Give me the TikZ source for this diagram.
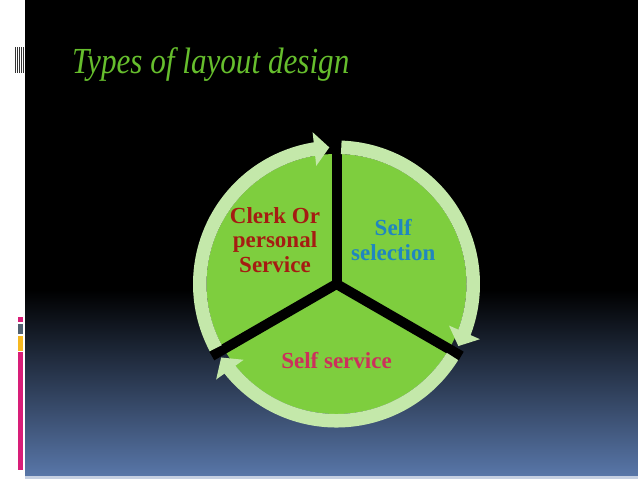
\documentclass[tikz,border=0pt]{standalone}
\usepackage{fontspec}
\setmainfont{Liberation Serif}
\usetikzlibrary{arrows.meta,bending,positioning}

\definecolor{disc}{RGB}{126,206,62}
\definecolor{ringgreen}{RGB}{196,232,170}
\definecolor{clerkred}{RGB}{165,28,18}
\definecolor{selfblue}{RGB}{32,134,192}
\definecolor{selfpink}{RGB}{204,48,92}
\definecolor{titlegreen}{RGB}{102,190,45}
\definecolor{slateblue}{RGB}{88,118,168}
\definecolor{barpink}{RGB}{216,30,120}
\definecolor{bargray}{RGB}{80,96,112}
\definecolor{baryellow}{RGB}{246,184,32}

\tikzset{
  segtext/.style={font=\fontsize{23}{24.5}\selectfont\bfseries, align=center},
  divider/.style={line width=10pt, black},
  ringarrow/.style={line width=13.5pt, ringgreen, -{Triangle[width=33pt,length=15pt,flex]}}
}

\begin{document}
\begin{tikzpicture}[x=1pt,y=1pt]
    \useasboundingbox (0,0) rectangle (638,479);
    % slide background
    \fill[white] (0,0) rectangle (638,479);
    \fill[black] (25,188) rectangle (638,479);
    \shade[top color=black, bottom color=slateblue] (25,3) rectangle (638,189);
    \fill[slateblue!35!white] (25,0) rectangle (638,3);
    \foreach \x in {15.3,17.3,...,23.4}
      \draw[black!80, line width=0.9pt] (\x,406) -- (\x,432);
    \fill[barpink] (18,157) rectangle (23,162);
    \fill[bargray] (18,145) rectangle (23,155);
    \fill[baryellow] (18,128) rectangle (23,143);
    \fill[barpink] (18,9) rectangle (23,127);
    \node(title) [anchor=base west, text=titlegreen, inner sep=0pt] at (72,405)
      {\scalebox{0.89}[1.05]{\fontsize{35}{35}\selectfont\itshape Types of layout design}};
    % pie with circular arrows
    \coordinate (c) at (336.5,195);
    \fill[disc] (c) circle[radius=130pt];
    \foreach \a in {90,210,330}
      \draw[divider] (c) -- ++(\a:144pt);
    \draw[ringarrow] (c) ++(208:136.75pt) arc[start angle=208, end angle=93, radius=136.75pt];
    \draw[ringarrow] (c) ++(88:136.75pt) arc[start angle=88, end angle=-27, radius=136.75pt];
    \draw[ringarrow] (c) ++(328:136.75pt) arc[start angle=328, end angle=212.5, radius=136.75pt];
    \node(clerk) [segtext, text=clerkred] at (275,239) {Clerk Or\\personal\\Service};
    \node(selection) [segtext, text=selfblue, right = 24pt of clerk] {Self\\selection};
    \node(service) [segtext, text=selfpink] at (336.5,118) {Self service};
\end{tikzpicture}
\end{document}
